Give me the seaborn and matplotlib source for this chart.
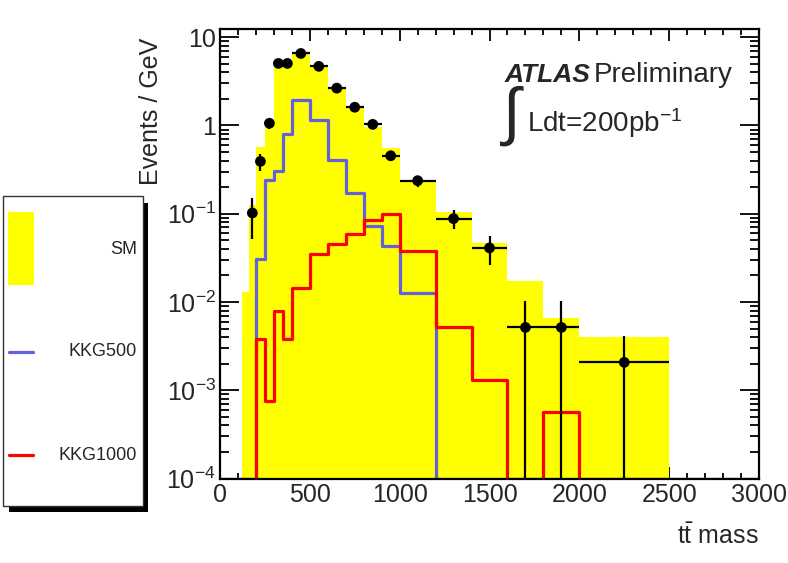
import numpy as np
import matplotlib
matplotlib.use('Agg')
import matplotlib.pyplot as plt
from matplotlib.patches import Rectangle
from matplotlib.lines import Line2D
from matplotlib.ticker import LogLocator, MultipleLocator, FixedLocator, FixedFormatter, NullFormatter
import seaborn as sns

# bin edges (GeV), shared by all histograms
edges = [0, 120, 160, 200, 250, 300, 350, 400, 500, 600, 700, 800, 900,
         1000, 1200, 1400, 1600, 1800, 2000, 2500, 3000]

# Events / GeV per bin
sm_values = [0, 0.013, 0.127, 0.578, 1.16, 4.83, 4.83, 6.38, 4.62, 2.64, 1.61,
             0.97, 0.555, 0.243, 0.104, 0.0461, 0.0173, 0.00656, 0.00404, 0]
kkg500_values = [0, 0, 0, 0.0304, 0.243, 0.302, 0.804, 1.94, 1.16, 0.409, 0.172,
                 0.0723, 0.043, 0.0128, 0, 0, 0, 0, 0, 0]
kkg1000_values = [0, 0, 0, 0.0038, 0.00075, 0.0079, 0.0038, 0.0143, 0.0346, 0.0449,
                  0.0583, 0.086, 0.0997, 0.038, 0.00515, 0.00132, 0, 0.000566, 0, 0]

# pseudo-data: bins 160-200 ... 2000-2500
data_lo = [160, 200, 250, 300, 350, 400, 500, 600, 700, 800, 900, 1000, 1200, 1400, 1600, 1800, 2000]
data_hi = [200, 250, 300, 350, 400, 500, 600, 700, 800, 900, 1000, 1200, 1400, 1600, 1800, 2000, 2500]
data_values = [0.102, 0.392, 1.06, 5.05, 5.05, 6.55, 4.68, 2.65, 1.61, 1.03, 0.454,
               0.237, 0.088, 0.041, 0.00515, 0.00515, 0.00207]
data_errors = [0.05, 0.085, 0.14, 0.32, 0.32, 0.26, 0.22, 0.16, 0.13, 0.1, 0.055,
               0.034, 0.021, 0.0145, 0.00515, 0.00515, 0.00207]

ymin, ymax = 1e-4, 12.4
W, H = 788, 563

sns.set_style('ticks')
plt.rcParams['font.family'] = ['Liberation Sans', 'DejaVu Sans']
plt.rcParams['mathtext.fontset'] = 'custom'
plt.rcParams['mathtext.rm'] = 'Liberation Sans'
plt.rcParams['mathtext.it'] = 'Liberation Sans:italic'
plt.rcParams['mathtext.bf'] = 'Liberation Sans:bold'


def px(x, y):
    return x / W, 1 - y / H


fig = plt.figure(figsize=(W / 100, H / 100), dpi=100)
ax = fig.add_axes([220 / W, 1 - 478.5 / H, 539 / W, 449.5 / H])
ax.set_yscale('log')

centers = [(a + b) / 2 for a, b in zip(edges[:-1], edges[1:])]

sns.histplot(x=centers, weights=sm_values, bins=edges, element='step', fill=True,
             color='#ffff00', alpha=1, linewidth=0, ax=ax)
sns.histplot(x=centers, weights=np.clip(kkg500_values, ymin, None), bins=edges,
             element='step', fill=False, color='#6262dc', linewidth=2.3, ax=ax)
sns.histplot(x=centers, weights=np.clip(kkg1000_values, ymin, None), bins=edges,
             element='step', fill=False, color='#ff0000', linewidth=2.3, ax=ax)

data_x = [(a + b) / 2 for a, b in zip(data_lo, data_hi)]
data_xerr = [(b - a) / 2 for a, b in zip(data_lo, data_hi)]
lower = [min(e, v - ymin * 0.999) for v, e in zip(data_values, data_errors)]
ax.errorbar(data_x, data_values, xerr=data_xerr, yerr=[lower, data_errors],
            fmt='none', ecolor='black', elinewidth=1.6, capsize=0, zorder=5)
sns.scatterplot(x=data_x, y=data_values, color='black', s=60, edgecolor='none',
                zorder=6, ax=ax)

ax.set_xlim(0, 3000)
ax.set_ylim(ymin, ymax)
ax.set_ylabel('')
ax.set_xlabel('')

# axis styling, ROOT-like
for s in ax.spines.values():
    s.set_linewidth(1.6)
    s.set_color('black')
    s.set_zorder(10)
ax.xaxis.set_major_locator(MultipleLocator(500))
ax.xaxis.set_minor_locator(MultipleLocator(100))
ax.yaxis.set_major_locator(FixedLocator([1e-4, 1e-3, 1e-2, 1e-1, 1, 10]))
ax.yaxis.set_major_formatter(FixedFormatter([r'$\mathregular{10^{-4}}$', r'$\mathregular{10^{-3}}$',
                                             r'$\mathregular{10^{-2}}$', r'$\mathregular{10^{-1}}$',
                                             '1', '10']))
ax.yaxis.set_minor_locator(LogLocator(base=10, subs=np.arange(2, 10), numticks=20))
ax.yaxis.set_minor_formatter(NullFormatter())
ax.tick_params(axis='both', which='both', direction='in', top=True, right=True,
               width=1.3, color='black')
ax.tick_params(axis='x', which='major', length=8.6, pad=3, labelsize=18)
ax.tick_params(axis='x', which='minor', length=4.3)
ax.tick_params(axis='y', which='major', length=13.7, pad=3, labelsize=18)
ax.tick_params(axis='y', which='minor', length=6.8)

# axis titles
fig.text(*px(151, 38), 'Events / GeV', rotation=90, ha='center', va='top', fontsize=18)
fig.text(*px(759, 536), r'$\mathregular{t\bar{t}}$ mass', ha='right', va='center', fontsize=18)

# annotations
fig.text(*px(505, 82), 'ATLAS', ha='left', va='baseline', fontsize=19,
         fontweight='bold', fontstyle='italic')
fig.text(*px(594, 82), 'Preliminary', ha='left', va='baseline', fontsize=20)
fig.text(*px(499, 116), r'$\int$', ha='left', va='center', fontsize=46)
fig.text(*px(527, 132), r'Ldt=200pb$^{\mathregular{-1}}$', ha='left', va='baseline', fontsize=20)

# legend box with shadow, left of the frame
fig.add_artist(Rectangle(px(9, 512), 139 / W, 309 / H, transform=fig.transFigure,
                         facecolor='black', edgecolor='none', zorder=1))
fig.add_artist(Rectangle(px(3, 506), 140 / W, 310 / H, transform=fig.transFigure,
                         facecolor='white', edgecolor='#333333', linewidth=1.0, zorder=2))
fig.add_artist(Rectangle(px(8, 285), 26 / W, 73 / H, transform=fig.transFigure,
                         facecolor='#ffff00', edgecolor='none', zorder=3))
fig.add_artist(Line2D([9 / W, 33 / W], [1 - 352 / H] * 2, transform=fig.transFigure,
                      color='#6262dc', linewidth=2.3, zorder=3))
fig.add_artist(Line2D([9 / W, 33 / W], [1 - 455 / H] * 2, transform=fig.transFigure,
                      color='#ff0000', linewidth=2.3, zorder=3))
for label, y in [('SM', 250), ('KKG500', 352), ('KKG1000', 455)]:
    fig.text(*px(137, y), label, ha='right', va='center', fontsize=13, zorder=4)

fig.savefig('out.png', dpi=100)
